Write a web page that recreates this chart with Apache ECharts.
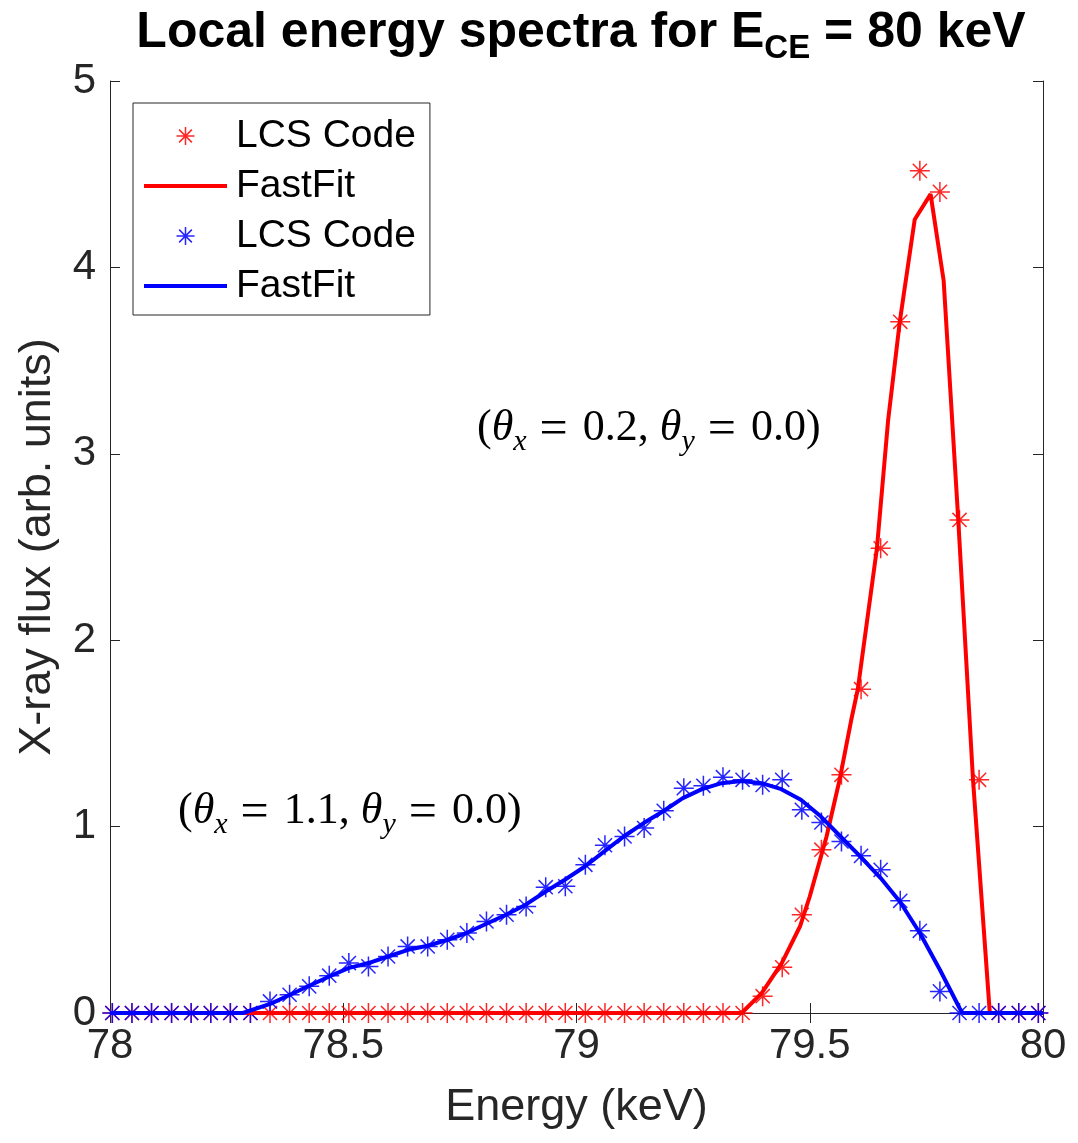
<!DOCTYPE html>
<html>
<head>
<meta charset="utf-8">
<script src="https://cdn.jsdelivr.net/npm/echarts@6/dist/echarts.min.js"></script>
<style>
  html, body { margin: 0; padding: 0; background: #fff; }
  #chart { width: 1078px; height: 1143px; }
</style>
</head>
<body>
<div id="chart"></div>
<script>
// Energy grid of the LCS code output (keV)
const energy = [
  78.005, 78.047, 78.089, 78.132, 78.174, 78.216, 78.258, 78.301,
  78.343, 78.385, 78.427, 78.470, 78.512, 78.554, 78.596, 78.638,
  78.681, 78.723, 78.765, 78.807, 78.850, 78.892, 78.934, 78.976,
  79.019, 79.061, 79.103, 79.145, 79.187, 79.230, 79.272, 79.314,
  79.356, 79.399, 79.441, 79.483, 79.525, 79.568, 79.610, 79.652,
  79.694, 79.736, 79.779, 79.821, 79.863, 79.905, 79.948, 79.990
];

// LCS code spectrum, theta_x = 0.2, theta_y = 0.0
const lcsNarrow = [
  0, 0, 0, 0, 0, 0, 0, 0,
  0, 0, 0, 0, 0, 0, 0, 0,
  0, 0, 0, 0, 0, 0, 0, 0,
  0, 0, 0, 0, 0, 0, 0, 0,
  0, 0.090, 0.245, 0.527, 0.876, 1.278, 1.737, 2.493,
  3.708, 4.518, 4.405, 2.645, 1.251, 0, 0, 0
];

// LCS code spectrum, theta_x = 1.1, theta_y = 0.0
const lcsWide = [
  0, 0, 0, 0, 0, 0, 0, 0,
  0.062, 0.098, 0.143, 0.200, 0.268, 0.250, 0.303, 0.357,
  0.357, 0.393, 0.429, 0.491, 0.527, 0.572, 0.675, 0.680,
  0.795, 0.900, 0.947, 0.992, 1.085, 1.206, 1.219, 1.265,
  1.251, 1.224, 1.251, 1.090, 1.022, 0.920, 0.843, 0.768,
  0.602, 0.441, 0.116, 0, 0, 0, 0, 0
];

// FastFit curve, theta_x = 0.2
const fitNarrowE = [78.0, 79.354, 79.397, 79.440, 79.479, 79.500, 79.536, 79.564, 79.589,
  79.603, 79.644, 79.668, 79.693, 79.725, 79.759, 79.787, 79.818, 79.850, 79.886, 80.0];
const fitNarrowY = [0, 0, 0.107, 0.268, 0.464, 0.625, 0.947, 1.251, 1.573,
  1.737, 2.493, 3.180, 3.708, 4.257, 4.393, 3.930, 2.660, 1.250, 0, 0];

// FastFit curve, theta_x = 1.1
const fitWideE = [78.0, 78.285, 78.345, 78.386, 78.427, 78.470, 78.511, 78.554, 78.596,
  78.639, 78.681, 78.724, 78.764, 78.807, 78.849, 78.891, 78.934, 78.975, 79.018,
  79.061, 79.101, 79.144, 79.185, 79.228, 79.269, 79.311, 79.354, 79.397, 79.439,
  79.481, 79.524, 79.566, 79.607, 79.652, 79.693, 79.736, 79.779, 79.821, 79.828, 80.0];
const fitWideY = [0, 0, 0.050, 0.098, 0.146, 0.196, 0.241, 0.268, 0.303,
  0.339, 0.361, 0.393, 0.429, 0.479, 0.527, 0.581, 0.652, 0.715, 0.786,
  0.870, 0.947, 1.019, 1.081, 1.153, 1.201, 1.233, 1.245, 1.233, 1.201,
  1.144, 1.054, 0.947, 0.843, 0.724, 0.598, 0.429, 0.232, 0.027, 0, 0];

const legendNames = ['LCS Code#1', 'FastFit#1', 'LCS Code#2', 'FastFit#2'];

const RED = '#ff0000';
const BLUE = '#0000ff';
const AXIS = '#262626';
const SANS = '"Liberation Sans", Arial, Helvetica, sans-serif';
const SERIF = '"Liberation Serif", "Times New Roman", serif';
const STAR = 'path://M10 0L10 20M0 10L20 10M2.93 2.93L17.07 17.07M2.93 17.07L17.07 2.93';
const BAR_ICON = 'path://M0 0H83V4H0Z';

const pairs = (xs, ys) => xs.map((x, i) => [x, ys[i]]);

const mathRich = {
  p: { fontFamily: SERIF, fontSize: 44, lineHeight: 50, color: '#000', verticalAlign: 'top' },
  t: { fontFamily: SERIF, fontStyle: 'italic', fontSize: 44, lineHeight: 50, color: '#000', verticalAlign: 'top' },
  s: { fontFamily: SERIF, fontStyle: 'italic', fontSize: 30, lineHeight: 30, color: '#000', verticalAlign: 'top', padding: [21, 0, 0, 0] },
  e: { fontFamily: SERIF, fontSize: 50, lineHeight: 50, color: '#000', verticalAlign: 'top', padding: [0, 15, 0, 13] }
};

const scatterSeries = (name, ys, color) => ({
  name: name,
  type: 'scatter',
  data: pairs(energy, ys),
  symbol: STAR,
  symbolSize: 20,
  symbolKeepAspect: true,
  itemStyle: { color: 'transparent', borderColor: color, borderWidth: 1.5, opacity: 0.85 },
  emphasis: { disabled: true }
});

const lineSeries = (name, xs, ys, color) => ({
  name: name,
  type: 'line',
  data: pairs(xs, ys),
  symbol: 'none',
  lineStyle: { color: color, width: 4 },
  itemStyle: { color: color },
  emphasis: { disabled: true }
});

const chart = echarts.init(document.getElementById('chart'));
chart.setOption({
  animation: false,
  backgroundColor: '#fff',
  title: {
    text: '{b|Local energy spectra for E}{s|CE}{b| = 80 keV}',
    left: 581,
    textAlign: 'center',
    top: 8,
    padding: 0,
    textStyle: {
      rich: {
        b: { fontFamily: SANS, fontWeight: 'bold', fontSize: 50, lineHeight: 50, color: '#000', verticalAlign: 'top' },
        s: { fontFamily: SANS, fontWeight: 'bold', fontSize: 33, lineHeight: 33, color: '#000', verticalAlign: 'top', padding: [24, 0, 0, 0] }
      }
    }
  },
  grid: { left: 110, right: 35, top: 81, bottom: 130, containLabel: false },
  legend: {
    data: [
      { name: legendNames[0] },
      { name: legendNames[1], icon: BAR_ICON },
      { name: legendNames[2] },
      { name: legendNames[3], icon: BAR_ICON }
    ],
    orient: 'vertical',
    left: 133,
    top: 103,
    padding: [13, 14, 9, 11],
    itemGap: 10,
    itemWidth: 83,
    itemHeight: 18,
    backgroundColor: '#fff',
    borderColor: AXIS,
    borderWidth: 1,
    borderRadius: 0,
    selectedMode: false,
    formatter: (n) => n.split('#')[0],
    itemStyle: { borderWidth: 1.5 },
    lineStyle: { width: 4 },
    textStyle: { fontFamily: SANS, fontSize: 39, lineHeight: 40, color: '#000', padding: [0, 0, 0, 4] }
  },
  xAxis: [
    {
      type: 'value', min: 78, max: 80, interval: 0.5,
      name: 'Energy (keV)', nameLocation: 'middle', nameGap: 72,
      nameTextStyle: { fontFamily: SANS, fontSize: 45, color: AXIS },
      axisLine: { lineStyle: { color: AXIS, width: 1 } },
      axisTick: { inside: true, length: 10, lineStyle: { color: AXIS } },
      axisLabel: { fontFamily: SANS, fontSize: 42, color: AXIS, margin: 12 },
      splitLine: { show: false }
    },
    {
      type: 'value', min: 78, max: 80, interval: 0.5, position: 'top',
      axisLine: { lineStyle: { color: AXIS, width: 1 } },
      axisTick: { inside: true, length: 10, lineStyle: { color: AXIS } },
      axisLabel: { show: false },
      splitLine: { show: false }
    }
  ],
  yAxis: [
    {
      type: 'value', min: 0, max: 5, interval: 1,
      name: 'X-ray flux (arb. units)', nameLocation: 'middle', nameGap: 50,
      nameTextStyle: { fontFamily: SANS, fontSize: 45, color: AXIS },
      axisLine: { show: true, lineStyle: { color: AXIS, width: 1 } },
      axisTick: { show: true, inside: true, length: 10, lineStyle: { color: AXIS } },
      axisLabel: { fontFamily: SANS, fontSize: 42, color: AXIS, margin: 14 },
      splitLine: { show: false }
    },
    {
      type: 'value', min: 0, max: 5, interval: 1, position: 'right',
      axisLine: { show: true, lineStyle: { color: AXIS, width: 1 } },
      axisTick: { show: true, inside: true, length: 10, lineStyle: { color: AXIS } },
      axisLabel: { show: false },
      splitLine: { show: false }
    }
  ],
  series: [
    scatterSeries(legendNames[0], lcsNarrow, RED),
    lineSeries(legendNames[1], fitNarrowE, fitNarrowY, RED),
    scatterSeries(legendNames[2], lcsWide, BLUE),
    lineSeries(legendNames[3], fitWideE, fitWideY, BLUE)
  ],
  graphic: [
    {
      type: 'text', left: 477, top: 406, z: 10,
      style: { text: '{p|(}{t|θ}{s|x}{e|=}{p|0.2, }{t|θ}{s|y}{e|=}{p|0.0)}', rich: mathRich }
    },
    {
      type: 'text', left: 178, top: 789, z: 10,
      style: { text: '{p|(}{t|θ}{s|x}{e|=}{p|1.1, }{t|θ}{s|y}{e|=}{p|0.0)}', rich: mathRich }
    }
  ]
});
</script>
</body>
</html>
